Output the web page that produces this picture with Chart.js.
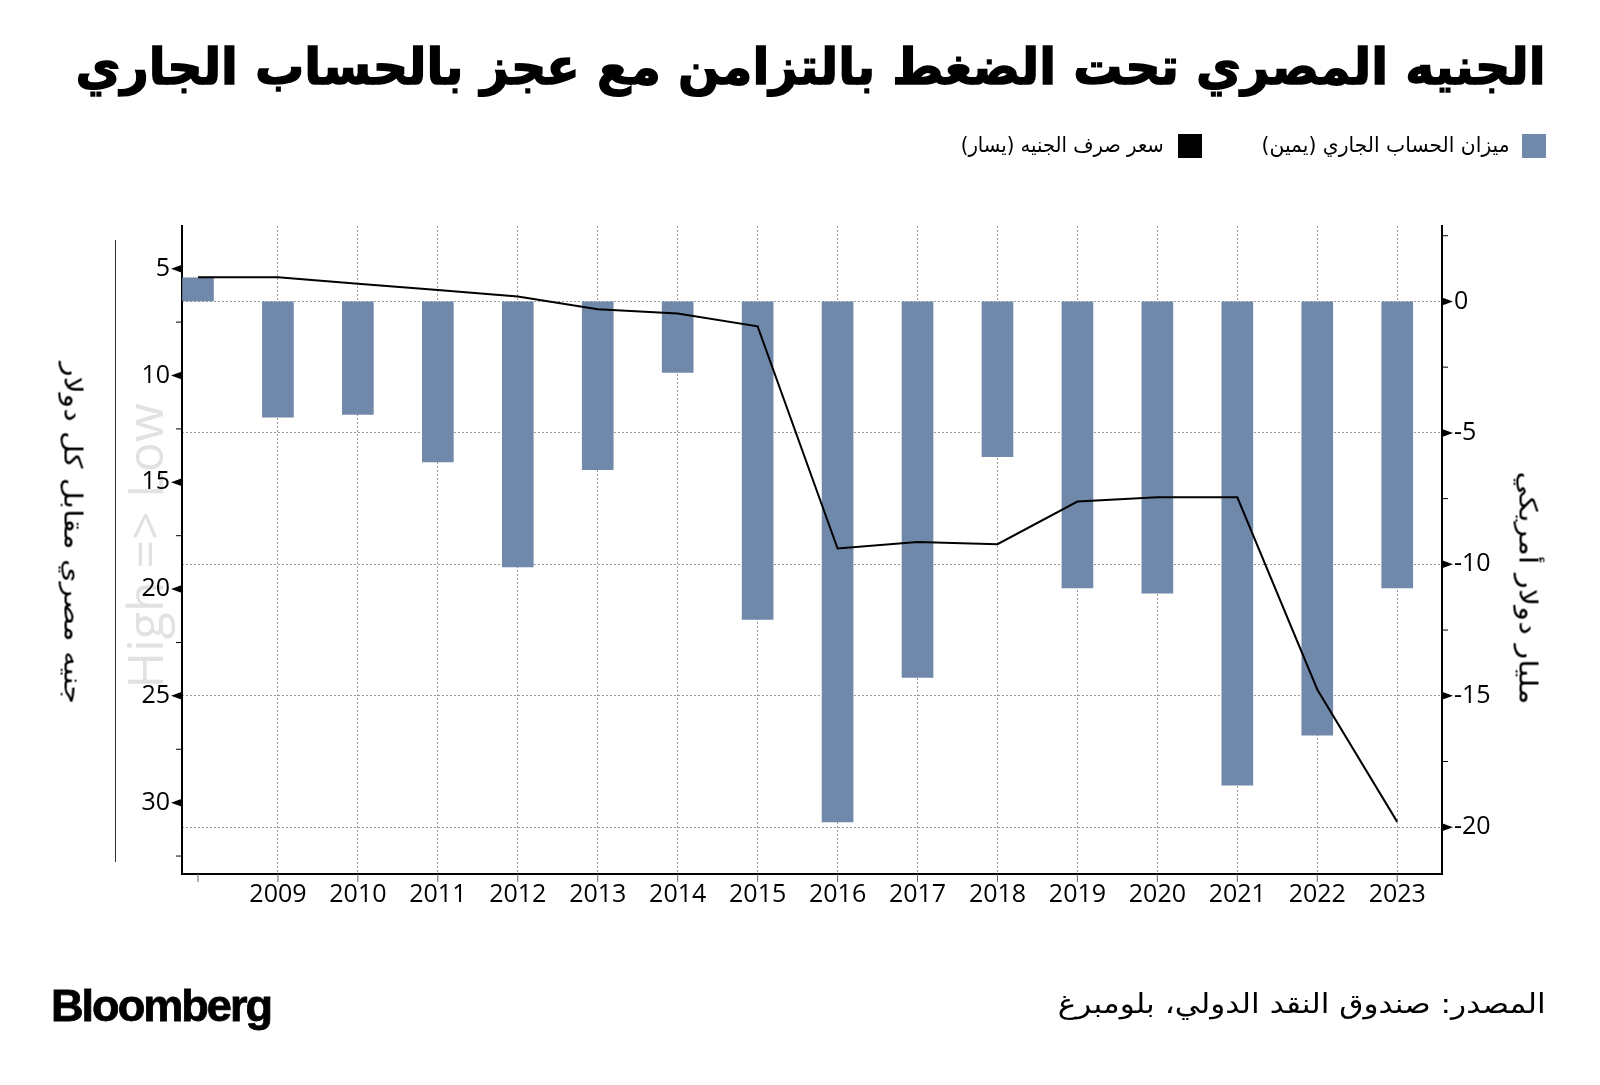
<!DOCTYPE html>
<html lang="ar">
<head>
<meta charset="UTF-8">
<title>الجنيه المصري تحت الضغط بالتزامن مع عجز بالحساب الجاري</title>
<script src="https://cdn.jsdelivr.net/npm/chart.js"></script>
<style>
  html, body { margin: 0; padding: 0; background: #fff; }
  #wrap { position: relative; width: 1600px; height: 1085px; overflow: hidden; }
  #myChart { position: absolute; left: 0; top: 0; }
  .txt { position: absolute; white-space: nowrap; font-family: "DejaVu Sans", sans-serif; color: #000; line-height: 1; }
  .fit-r { transform-origin: right center; }
  .fit-l { transform-origin: left center; }
  #title { right: 54px; top: 42px; font-size: 50px; font-weight: bold; -webkit-text-stroke: 1.5px #000; }
  .swatch { position: absolute; width: 24px; height: 24px; top: 134px; }
  .leg { top: 135px; font-size: 21px; }
  #source { right: 54px; top: 990px; font-size: 27px; }
  #logo { left: 51px; top: 983px; font-family: "Liberation Sans", sans-serif; font-weight: bold; font-size: 45px; letter-spacing: -2px; -webkit-text-stroke: 0.8px #000; }
  .rot { position: absolute; white-space: nowrap; font-family: "DejaVu Sans", sans-serif; line-height: 1; }
  #leftTitle { left: 73px; top: 533px; font-size: 25px; }
  #rightTitle { left: 1528px; top: 588px; font-size: 25px; }
  #mark { left: 144px; top: 546px; font-size: 50px; color: #e2e2e2; font-family: "Open Sans", sans-serif; transform: translate(-50%, -50%) rotate(-90deg); }
  #sep { position: absolute; left: 115px; top: 240px; width: 1px; height: 622px; background: #333; }
</style>
</head>
<body>
<div id="wrap">
  <div id="sep"></div>
  <div class="rot" id="mark">High =&gt; Low</div>
  <canvas id="myChart" width="1600" height="1085"></canvas>

  <div class="txt fit-r" id="title" data-w="1470">الجنيه المصري تحت الضغط بالتزامن مع عجز بالحساب الجاري</div>

  <div class="swatch" style="left:1522px; background:#7088aa;"></div>
  <div class="txt leg fit-r" id="leg1" style="right:90px;" data-w="248">ميزان الحساب الجاري (يمين)</div>
  <div class="swatch" style="left:1178px; background:#000;"></div>
  <div class="txt leg fit-r" id="leg2" style="right:436px;" data-w="203">سعر صرف الجنيه (يسار)</div>

  <div class="rot" id="leftTitle">جنيه مصري مقابل كل دولار</div>
  <div class="rot" id="rightTitle">مليار دولار أمريكي</div>

  <div class="txt fit-r" id="source" data-w="488">المصدر: صندوق النقد الدولي، بلومبرغ</div>
  <div class="txt fit-l" id="logo" data-w="220">Bloomberg</div>
</div>

<script>
  // Data
  var years = [2008, 2009, 2010, 2011, 2012, 2013, 2014, 2015, 2016, 2017, 2018, 2019, 2020, 2021, 2022, 2023];
  var currentAccount = [0.9, -4.4, -4.3, -6.1, -10.1, -6.4, -2.7, -12.1, -19.8, -14.3, -5.9, -10.9, -11.1, -18.4, -16.5, -10.9];
  var exchangeRate = [5.4, 5.4, 5.7, 6.0, 6.3, 6.9, 7.1, 7.7, 18.1, 17.8, 17.9, 15.9, 15.7, 15.7, 24.7, 30.9];
  var leftTicks = [5, 10, 15, 20, 25, 30];
  var leftMinor = [7.5, 12.5, 17.5, 22.5, 27.5, 32.5];
  var rightTicks = [0, -5, -10, -15, -20];
  var rightMinor = [2.5, -2.5, -7.5, -12.5, -17.5];

  var barColor = '#7088aa';
  var tickFont = { family: '"Open Sans", sans-serif', size: 25 };

  // fit text widths
  document.querySelectorAll('[data-w]').forEach(function(el) {
    var w = el.getBoundingClientRect().width;
    var target = +el.getAttribute('data-w');
    el.style.transform = 'scaleX(' + (target / w) + ')';
  });
  [['leftTitle', 342], ['rightTitle', 233]].forEach(function(p) {
    var el = document.getElementById(p[0]);
    var w = el.getBoundingClientRect().width;
    el.style.transform = 'translate(-50%, -50%) rotate(90deg) scaleX(' + (p[1] / w) + ')';
  });

  // triangles and minor ticks on the y axes
  var axisMarks = {
    id: 'axisMarks',
    afterDraw: function(chart) {
      var ctx = chart.ctx;
      var a = chart.chartArea;
      var yL = chart.scales.y, yR = chart.scales.y1, xs = chart.scales.x;
      ctx.save();
      ctx.fillStyle = '#000';
      ctx.strokeStyle = '#000';
      ctx.lineWidth = 1;
      function tri(x0, py, dir) {
        ctx.beginPath();
        ctx.moveTo(x0, py - 4);
        ctx.lineTo(x0 + dir * 11, py);
        ctx.lineTo(x0, py + 4);
        ctx.closePath();
        ctx.fill();
      }
      function minor(x0, py, dir) {
        ctx.beginPath();
        ctx.moveTo(x0, py);
        ctx.lineTo(x0 + dir * 6, py);
        ctx.stroke();
      }
      leftTicks.forEach(function(v) { tri(a.left, yL.getPixelForValue(v), -1); });
      leftMinor.forEach(function(v) { minor(a.left, yL.getPixelForValue(v), -1); });
      rightTicks.forEach(function(v) { tri(a.right, yR.getPixelForValue(v), 1); });
      rightMinor.forEach(function(v) { minor(a.right, yR.getPixelForValue(v), 1); });
      ctx.strokeStyle = '#666';
      years.forEach(function(v) {
        var px = xs.getPixelForValue(v);
        ctx.beginPath();
        ctx.moveTo(px, a.bottom);
        ctx.lineTo(px, a.bottom + 8);
        ctx.stroke();
      });
      ctx.restore();
    }
  };

  var ctx = document.getElementById('myChart').getContext('2d');
  var myChart = new Chart(ctx, {
    type: 'bar',
    data: {
      datasets: [{
        type: 'line',
        label: 'سعر صرف الجنيه (يسار)',
        data: years.map(function(y, i) { return { x: y, y: exchangeRate[i] }; }),
        yAxisID: 'y',
        borderColor: '#000',
        borderWidth: 2,
        pointRadius: 0,
        tension: 0,
        order: 0
      }, {
        label: 'ميزان الحساب الجاري (يمين)',
        data: years.map(function(y, i) { return { x: y, y: currentAccount[i] }; }),
        yAxisID: 'y1',
        backgroundColor: barColor,
        barThickness: 31,
        order: 1
      }]
    },
    options: {
      responsive: false,
      animation: false,
      devicePixelRatio: 1,
      layout: { padding: { top: 226, left: 0, right: 0, bottom: 0 } },
      plugins: {
        legend: { display: false },
        tooltip: { enabled: false }
      },
      scales: {
        x: {
          type: 'linear',
          position: 'bottom',
          offset: false,
          min: 2007.8,
          max: 2023.56,
          afterBuildTicks: function(s) { s.ticks = years.map(function(v) { return { value: v }; }); },
          afterFit: function(s) { s.height = 1085 - 874; },
          ticks: {
            font: tickFont,
            color: '#000',
            padding: 6,
            maxRotation: 0,
            autoSkip: false,
            callback: function(v) { return v === 2008 ? '' : String(v); }
          },
          grid: {
            offset: false,
            drawTicks: false,
            color: function(c) { return c.tick && c.tick.value === 2008 ? 'rgba(0,0,0,0)' : '#9a9a9a'; },
            lineWidth: 1
          },
          border: { display: true, color: '#000', width: 2, dash: [2, 2] }
        },
        y: {
          type: 'linear',
          position: 'left',
          reverse: true,
          min: 3,
          max: 33.34,
          afterBuildTicks: function(s) { s.ticks = leftTicks.map(function(v) { return { value: v }; }); },
          afterFit: function(s) { s.width = 182; },
          ticks: { font: tickFont, color: '#000', padding: 12 },
          grid: { drawOnChartArea: false, drawTicks: false },
          border: { display: true, color: '#000', width: 2 }
        },
        y1: {
          type: 'linear',
          position: 'right',
          min: -21.78,
          max: 2.87,
          afterBuildTicks: function(s) { s.ticks = rightTicks.map(function(v) { return { value: v }; }); },
          afterFit: function(s) { s.width = 1600 - 1442; },
          ticks: {
            font: tickFont,
            color: '#000',
            padding: 12,
            callback: function(v) { return v < 0 ? '-' + Math.abs(v) : String(v); }
          },
          grid: { drawTicks: false, color: '#9a9a9a', lineWidth: 1 },
          border: { display: true, color: '#000', width: 2, dash: [2, 2] }
        }
      }
    },
    plugins: [axisMarks]
  });
</script>
</body>
</html>
